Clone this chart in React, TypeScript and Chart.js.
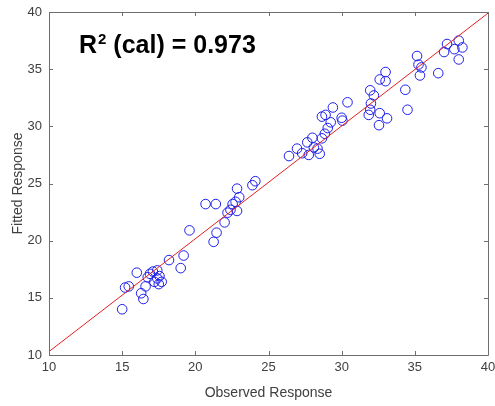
import React, { useEffect, useRef } from "react";
import { Chart, registerables } from "chart.js";

Chart.register(...registerables);

const observed: number[] = [
  15.0, 15.2, 15.45, 16.0, 16.3, 16.45, 16.6, 16.75, 16.9, 17.1, 17.4, 17.2, 17.4, 17.5, 17.7, 17.55, 18.2, 19.0, 19.2, 19.6,
  20.7, 21.4, 21.25, 21.45, 22.0, 22.2, 22.4, 22.55, 22.75, 22.85, 23.0, 22.85, 23.9, 24.1,
  26.4, 26.95, 27.3, 27.75, 27.65, 28.0, 28.1, 28.35, 28.5, 28.65, 28.85, 29.05, 29.25, 28.65, 28.9, 29.4, 30.0, 30.05, 30.4,
  31.85, 31.95, 32.0, 31.95, 32.2, 32.6, 32.55, 33.1, 32.6, 33.0, 33.0, 34.35, 34.5, 35.15, 35.25, 35.45, 35.35, 36.6, 37.0, 37.2, 37.7, 38.0, 38.25, 38.0,
];
const fitted: number[] = [
  14.0, 15.9, 16.0, 17.2, 15.4, 14.9, 16.0, 16.8, 17.1, 17.3, 17.4, 16.4, 16.7, 16.2, 16.4, 16.9, 18.3, 17.6, 18.7, 20.9,
  23.2, 23.2, 19.9, 20.7, 21.6, 22.45, 22.7, 23.2, 23.4, 24.55, 23.8, 22.6, 24.85, 25.2,
  27.4, 28.05, 27.65, 27.5, 28.6, 29.0, 28.15, 28.05, 27.6, 28.95, 29.35, 29.85, 30.35, 30.85, 31.0, 31.65, 30.75, 30.5, 32.1,
  31.0, 31.45, 32.0, 33.15, 32.7, 31.15, 30.1, 30.7, 34.1, 34.75, 33.95, 33.2, 31.45, 36.15, 35.4, 35.15, 34.45, 34.65, 36.5, 37.2, 36.75, 37.5, 36.9, 35.85,
];
const fitLineX: number[] = [10, 40];
const fitLineY: number[] = [10.3, 39.9];
const tickValues: number[] = [10, 15, 20, 25, 30, 35, 40];
const xTitle = "Observed Response";
const yTitle = "Fitted Response";
const annotationMain = "R";
const annotationSup = "2";
const annotationRest = " (cal) = 0.973";

const AXIS_COLOR = "#6e6e6e";
const TEXT_COLOR = "#404040";
const FONT = "'Liberation Sans', Arial, sans-serif";

const boxPlugin = {
  id: "matlabBox",
  afterDatasetsDraw(chart: any) {
    const { ctx, chartArea, scales } = chart;
    const { left, right, top, bottom } = chartArea;
    ctx.save();
    ctx.strokeStyle = AXIS_COLOR;
    ctx.lineWidth = 1;
    ctx.beginPath();
    ctx.rect(Math.round(left) + 0.5, Math.round(top) + 0.5, Math.round(right - left), Math.round(bottom - top));
    ctx.stroke();
    const tl = 4;
    ctx.beginPath();
    for (const v of tickValues) {
      const px = Math.round(scales.x.getPixelForValue(v)) + 0.5;
      ctx.moveTo(px, bottom);
      ctx.lineTo(px, bottom - tl);
      ctx.moveTo(px, top);
      ctx.lineTo(px, top + tl);
      const py = Math.round(scales.y.getPixelForValue(v)) + 0.5;
      ctx.moveTo(left, py);
      ctx.lineTo(left + tl, py);
      ctx.moveTo(right, py);
      ctx.lineTo(right - tl, py);
    }
    ctx.stroke();
    // annotation
    ctx.fillStyle = "#000";
    ctx.textBaseline = "alphabetic";
    ctx.textAlign = "left";
    let x = left + 30;
    const y = top + 41;
    ctx.font = `bold 25px ${FONT}`;
    ctx.fillText(annotationMain, x, y);
    x += ctx.measureText(annotationMain).width + 1;
    ctx.font = `bold 15px ${FONT}`;
    ctx.fillText(annotationSup, x, y - 9);
    x += ctx.measureText(annotationSup).width;
    ctx.font = `bold 25px ${FONT}`;
    ctx.fillText(annotationRest, x, y);
    ctx.restore();
  },
};

export default function App() {
  const ref = useRef<HTMLCanvasElement | null>(null);
  useEffect(() => {
    if (!ref.current) return;
    const scatterData = observed.map((x, i) => ({ x, y: fitted[i] }));
    const lineData = fitLineX.map((x, i) => ({ x, y: fitLineY[i] }));
    const chart = new Chart(ref.current, {
      type: "scatter",
      data: {
        datasets: [
          {
            type: "scatter",
            data: scatterData,
            pointStyle: "circle",
            pointRadius: 4.8,
            pointBorderWidth: 1,
            pointBorderColor: "rgb(30,30,235)",
            pointBackgroundColor: "rgba(0,0,0,0)",
            order: 2,
          } as any,
          {
            type: "line",
            data: lineData,
            borderColor: "rgb(230,30,30)",
            borderWidth: 1,
            pointRadius: 0,
            fill: false,
            order: 1,
          } as any,
        ],
      },
      options: {
        animation: false,
        responsive: true,
        maintainAspectRatio: false,
        layout: { padding: { top: 12, right: 7, left: 0, bottom: 0 } },
        plugins: { legend: { display: false }, tooltip: { enabled: false } },
        scales: {
          x: {
            type: "linear",
            min: 10,
            max: 40,
            afterFit: (s: any) => { s.height = 51; s.paddingLeft = 0; s.paddingRight = 0; },
            afterBuildTicks: (s: any) => { s.ticks = tickValues.map((v) => ({ value: v })); },
            grid: { display: false, drawTicks: false },
            border: { display: false },
            ticks: { color: TEXT_COLOR, font: { family: FONT, size: 13 }, padding: 5, maxRotation: 0 },
            title: { display: true, text: xTitle, color: TEXT_COLOR, font: { family: FONT, size: 14 }, padding: { top: 0, bottom: 4 } },
          },
          y: {
            type: "linear",
            min: 10,
            max: 40,
            afterFit: (s: any) => { s.width = 49; s.paddingTop = 0; s.paddingBottom = 0; },
            afterBuildTicks: (s: any) => { s.ticks = tickValues.map((v) => ({ value: v })); },
            grid: { display: false, drawTicks: false },
            border: { display: false },
            ticks: { color: TEXT_COLOR, font: { family: FONT, size: 13 }, padding: 7 },
            title: { display: true, text: yTitle, color: TEXT_COLOR, font: { family: FONT, size: 14 }, padding: { top: 10, bottom: 0 } },
          },
        },
      },
      plugins: [boxPlugin],
    });
    return () => chart.destroy();
  }, []);
  return (
    <div style={{ position: "fixed", left: 0, top: 0, width: 495, height: 406, background: "#fff" }}>
      <canvas ref={ref} />
    </div>
  );
}
